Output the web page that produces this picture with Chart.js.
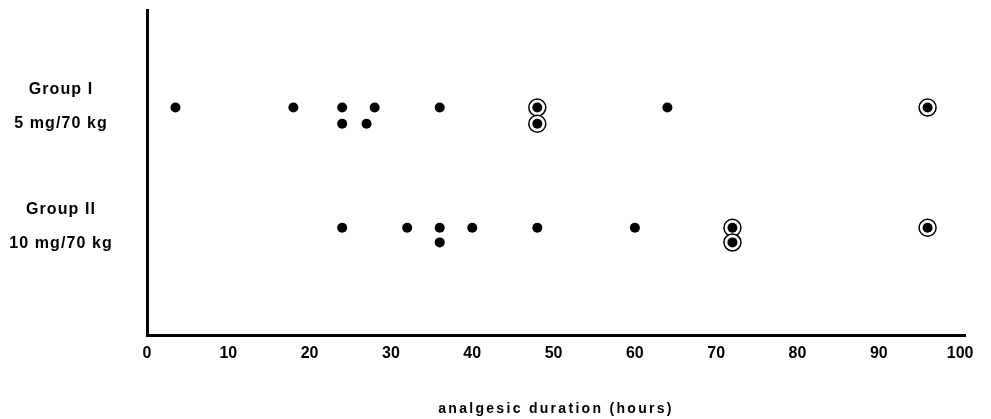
<!DOCTYPE html>
<html lang="en">
<head>
  <meta charset="UTF-8">
  <title>analgesic duration</title>
  <script src="https://cdn.jsdelivr.net/npm/chart.js"></script>
  <style>
    html, body { margin: 0; padding: 0; background: #fff; }
    #wrap { width: 991px; height: 419px; }
  </style>
</head>
<body>
  <div id="wrap"><canvas id="c" width="991" height="419"></canvas></div>

  <script>
    // analgesic duration (hours) per patient, two rows per group
    const groupIRow1 = [3.5, 18, 24, 28, 36, 48, 64, 96];
    const groupIRow2 = [24, 27, 48];
    const groupIIRow1 = [24, 32, 36, 40, 48, 60, 72, 96];
    const groupIIRow2 = [36, 72];

    // circled points (same durations, marked with a ring)
    const circledIRow1 = [48, 96];
    const circledIRow2 = [48];
    const circledIIRow1 = [72, 96];
    const circledIIRow2 = [72];

    // row levels on the hidden y scale
    const rowLevels = { I1: 7.0, I2: 6.5, II1: 3.3, II2: 2.85 };

    const xTicks = [0, 10, 20, 30, 40, 50, 60, 70, 80, 90, 100];
    const xTitle = 'analgesic duration (hours)';

    const groupLabels = [
      { name: 'Group I', dose: '5 mg/70 kg', level: rowLevels.I1 },
      { name: 'Group II', dose: '10 mg/70 kg', level: rowLevels.II1 }
    ];

    const pts = (arr, y) => arr.map(x => ({ x, y }));

    const dots = [
      ...pts(groupIRow1, rowLevels.I1), ...pts(groupIRow2, rowLevels.I2),
      ...pts(groupIIRow1, rowLevels.II1), ...pts(groupIIRow2, rowLevels.II2)
    ];
    const rings = [
      ...pts(circledIRow1, rowLevels.I1), ...pts(circledIRow2, rowLevels.I2),
      ...pts(circledIIRow1, rowLevels.II1), ...pts(circledIIRow2, rowLevels.II2)
    ];

    // group names on the left and the spaced-out axis title
    const sideLabels = {
      id: 'sideLabels',
      afterDraw(chart) {
        const ctx = chart.ctx, y = chart.scales.y, x = chart.scales.x;
        ctx.save();
        ctx.fillStyle = '#000';
        ctx.textAlign = 'center';
        ctx.textBaseline = 'middle';
        ctx.font = 'bold 16px "Liberation Sans", Arial, sans-serif';
        ctx.letterSpacing = '1.1px';
        groupLabels.forEach(g => {
          const py = y.getPixelForValue(g.level);
          ctx.fillText(g.name, 61, py - 18);
          ctx.fillText(g.dose, 61, py + 16);
        });
        ctx.font = 'bold 14px "Liberation Sans", Arial, sans-serif';
        ctx.letterSpacing = '2.3px';
        ctx.fillText(xTitle, 556, x.bottom - 8);
        ctx.restore();
      }
    };

    new Chart(document.getElementById('c'), {
      type: 'scatter',
      data: {
        datasets: [
          {
            label: 'patients',
            data: dots,
            order: 1,
            pointRadius: 5,
            pointHoverRadius: 5,
            backgroundColor: '#000',
            borderColor: '#000',
            borderWidth: 0
          },
          {
            label: 'circled',
            data: rings,
            order: 2,
            pointRadius: 8.5,
            pointHoverRadius: 8.5,
            backgroundColor: '#fff',
            borderColor: '#000',
            borderWidth: 1.5
          }
        ]
      },
      options: {
        responsive: false,
        animation: false,
        events: [],
        layout: { padding: { left: 147, right: 26, top: 7, bottom: 2 } },
        plugins: { legend: { display: false }, tooltip: { enabled: false } },
        scales: {
          x: {
            type: 'linear',
            min: 0,
            max: 100.6,
            afterBuildTicks: s => { s.ticks = xTicks.map(v => ({ value: v })); },
            afterFit: s => { s.height = 82; },
            grid: { display: false, drawTicks: false },
            border: { display: true, color: '#000', width: 3 },
            ticks: {
              padding: 9,
              color: '#000',
              maxRotation: 0,
              font: { family: '"Liberation Sans", Arial, sans-serif', size: 16, weight: 'bold' }
            }
          },
          y: {
            type: 'linear',
            min: 0,
            max: 10,
            afterFit: s => { s.width = 0; },
            grid: { display: false, drawTicks: false },
            border: { display: true, color: '#000', width: 3 },
            ticks: { display: false }
          }
        }
      },
      plugins: [sideLabels]
    });
  </script>
</body>
</html>
